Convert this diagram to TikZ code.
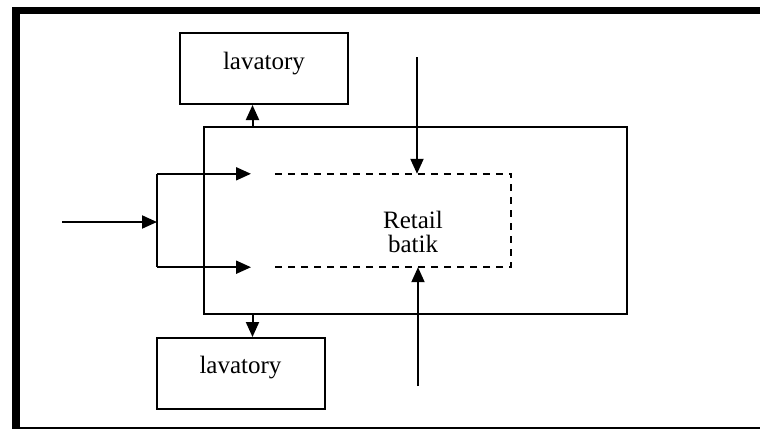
\documentclass[tikz,border=0pt]{standalone}
\usepackage{fontspec}
\setmainfont{Liberation Serif}
\usetikzlibrary{arrows.meta}
\begin{document}
\begin{tikzpicture}[x=1pt,y=-1pt,
  line/.style={line width=2pt},
  arr/.style={line, -{Triangle[length=15pt,width=13pt]}},
  room/.style={draw, line width=2pt, minimum width=168pt, minimum height=71pt,
               inner sep=0pt, font=\fontsize{25}{28}\selectfont},
  hall/.style={draw, line width=2pt, minimum width=423pt, minimum height=187pt, inner sep=0pt},
  shopzone/.style={draw=none, minimum width=236pt, minimum height=93pt, inner sep=0pt,
                   align=center, font=\fontsize{25}{24}\selectfont},
  zoneedge/.style={line width=1.8pt, dash pattern=on 7pt off 6pt}]
  \useasboundingbox (0,0) rectangle (760,429);

  % outer frame
  \draw[line width=7.5pt] (12,10.5) -- (760,10.5);
  \draw[line width=8pt] (16,7) -- (16,429);
  \draw[line width=1.8pt] (16,428) -- (760,428);

  % rooms
  \node[hall] (main) at (415.5,220.5) {};
  \node[shopzone] (shop) at (393,220.5) {};
  \node[font=\fontsize{25}{24}\selectfont, align=center] (shoplabel) at (413,232) {Retail\\batik};
  \draw[zoneedge] (shop.north west) -- (shop.north east) -- (shop.south east) -- (shop.south west);
  \node[room] (lavtop) at (264,68.5) {};
  \node[font=\fontsize{25}{28}\selectfont] (lavtoplabel) at (264,64) {lavatory};
  \node[room] (lavbot) at (240.5,373.5) {};
  \node[font=\fontsize{25}{28}\selectfont] (lavbotlabel) at (240.5,368) {lavatory};

  % reference points for connectors
  \coordinate (lavup) at (252.5,0);
  \coordinate (entry) at (62,222);
  \coordinate (fork) at (157,222);
  \coordinate (gate) at (251,0);
  \coordinate (intop) at (417,57);
  \coordinate (inbot) at (418,386);

  % connectors
  \draw[arr] (main.north -| lavup) -- (lavtop.south -| lavup);
  \draw[arr] (main.south -| lavup) -- (lavbot.north -| lavup);
  \draw[arr] (entry) -- (fork);
  \draw[line] (fork |- shop.north) -- (fork |- shop.south);
  \draw[arr] (fork |- shop.north) -- (gate |- shop.north);
  \draw[arr] (fork |- shop.south) -- (gate |- shop.south);
  \draw[arr] (intop) -- (intop |- shop.north);
  \draw[arr] (inbot) -- (inbot |- shop.south);
\end{tikzpicture}
\end{document}
